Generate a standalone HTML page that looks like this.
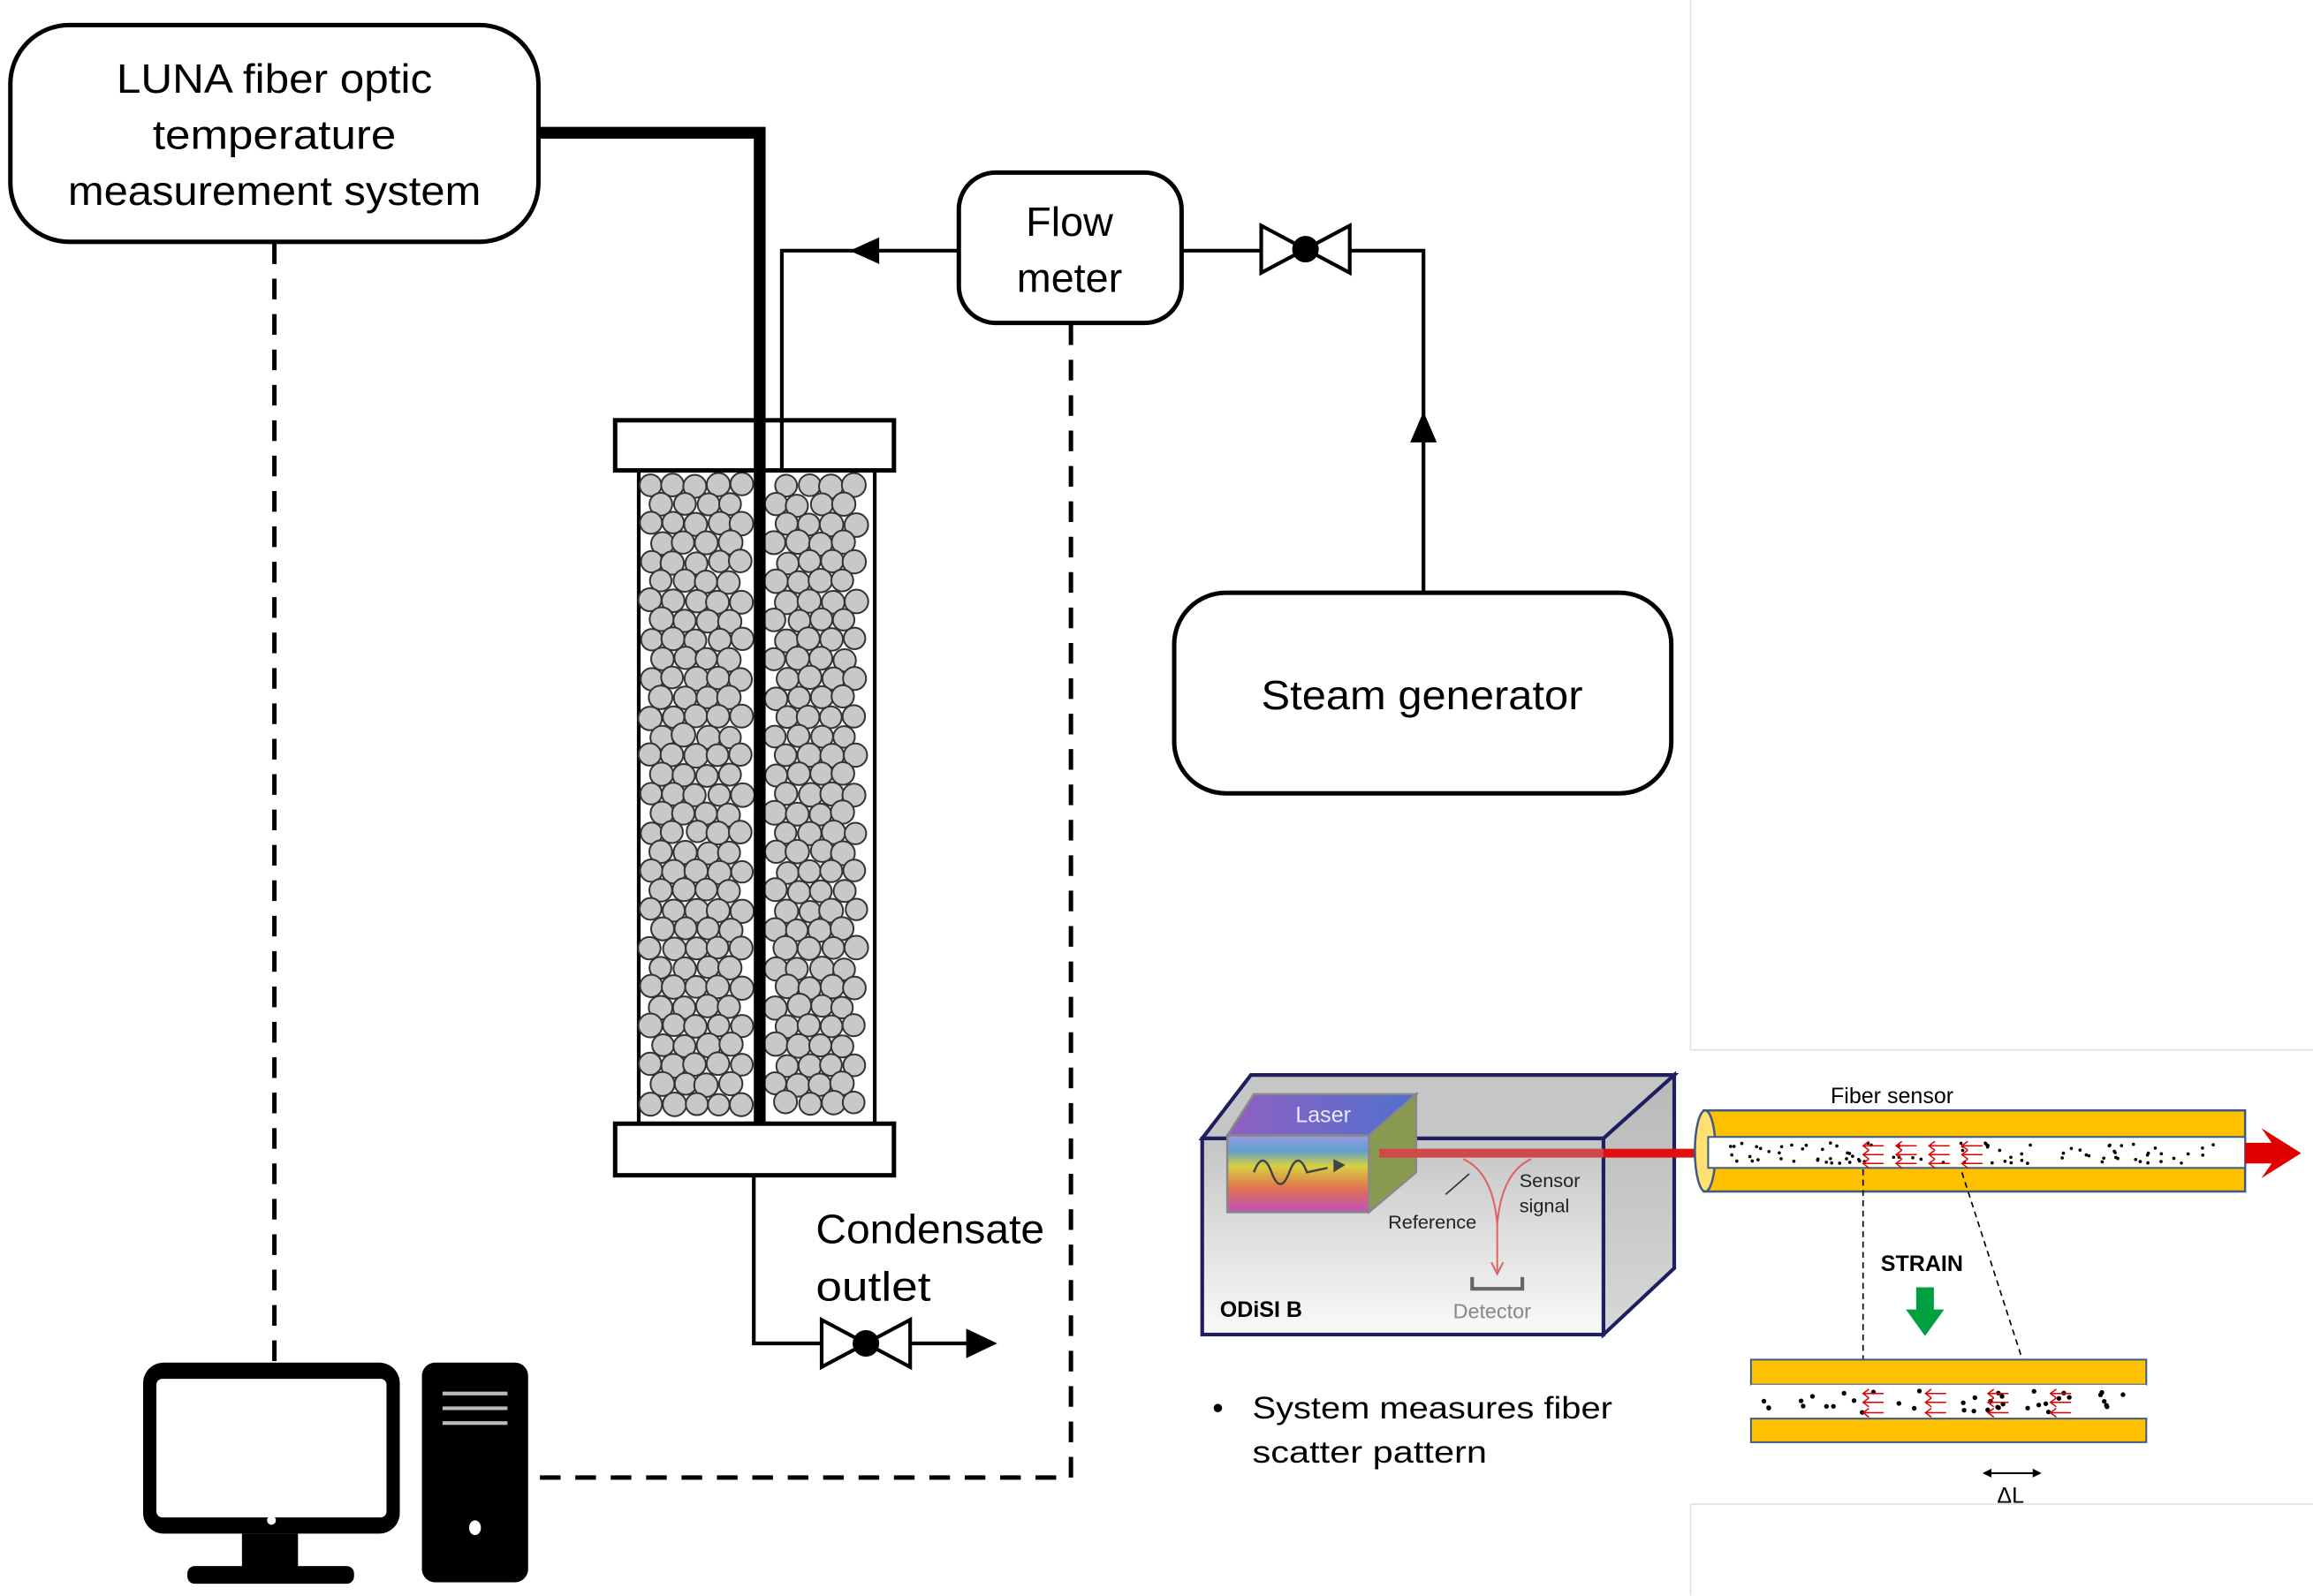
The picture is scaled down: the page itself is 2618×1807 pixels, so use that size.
<!DOCTYPE html>
<html><head><meta charset="utf-8"><style>
html,body{margin:0;padding:0;background:#fff;}
svg{display:block;}
text{font-family:"Liberation Sans",sans-serif;}
</style></head><body>
<svg id="s" width="2618" height="1807" viewBox="0 0 1568 1082.3" xmlns="http://www.w3.org/2000/svg">
<defs>
<linearGradient id="boxg" x1="0" y1="0" x2="0" y2="1"><stop offset="0" stop-color="#c4c4c4"/><stop offset="1" stop-color="#fafafa"/></linearGradient>
<linearGradient id="sideg" x1="0" y1="0" x2="0" y2="1"><stop offset="0" stop-color="#b8b8b8"/><stop offset="1" stop-color="#d8d8d8"/></linearGradient>
<linearGradient id="rain" x1="0" y1="0" x2="0" y2="1"><stop offset="0" stop-color="#9a9ae0"/><stop offset="0.2" stop-color="#5f9fd0"/><stop offset="0.4" stop-color="#d8d040"/><stop offset="0.7" stop-color="#e07050"/><stop offset="1" stop-color="#c050c0"/></linearGradient>
<linearGradient id="rtop" x1="0" y1="0" x2="1" y2="0"><stop offset="0" stop-color="#9060c0"/><stop offset="1" stop-color="#5070d0"/></linearGradient>
</defs>

<!-- gray frame lines right -->
<g stroke="#e2e2e2" stroke-width="1" fill="none">
<line x1="1146" y1="0" x2="1146" y2="712"/><line x1="1146" y1="712" x2="1568" y2="712"/>
<line x1="1146" y1="1020" x2="1568" y2="1020"/><line x1="1146" y1="1020" x2="1146" y2="1082"/>
</g>

<!-- LUNA box -->
<rect x="7" y="17" width="358" height="147" rx="40" fill="#fff" stroke="#000" stroke-width="3"/>
<g font-size="28" text-anchor="middle" fill="#000">
<text x="186" y="63" textLength="214" lengthAdjust="spacingAndGlyphs">LUNA fiber optic</text>
<text x="186" y="101" textLength="165" lengthAdjust="spacingAndGlyphs">temperature</text>
<text x="186" y="139" textLength="280" lengthAdjust="spacingAndGlyphs">measurement system</text>
</g>
<!-- thick fiber -->
<polyline points="365,90 515,90 515,762" fill="none" stroke="#000" stroke-width="8"/>
<!-- dashed from LUNA -->
<line x1="186" y1="165" x2="186" y2="924" stroke="#000" stroke-width="3" stroke-dasharray="14,10"/>

<!-- Flow meter -->
<rect x="650" y="117" width="151" height="102" rx="25" fill="#fff" stroke="#000" stroke-width="3"/>
<g font-size="28" text-anchor="middle"><text x="725" y="160">Flow</text><text x="725" y="198">meter</text></g>
<polyline points="650,170 530,170 530,285" fill="none" stroke="#000" stroke-width="2.5"/>
<polygon points="576,170 596,161 596,179" fill="#000"/>
<!-- right pipe & valve -->
<polyline points="801,170 855,170" fill="none" stroke="#000" stroke-width="2.5"/>
<polygon points="855,153 915,185 915,153 855,185" fill="#fff" stroke="#000" stroke-width="2.5"/>
<circle cx="885" cy="169" r="9" fill="#000"/>
<polyline points="915,170 965,170 965,402" fill="none" stroke="#000" stroke-width="2.5"/>
<polygon points="965,279 956,300 974,300" fill="#000"/>

<!-- Steam generator -->
<rect x="796" y="402" width="337" height="136" rx="35" fill="#fff" stroke="#000" stroke-width="3"/>
<text x="964" y="481" font-size="28" text-anchor="middle" textLength="218" lengthAdjust="spacingAndGlyphs">Steam generator</text>

<!-- column -->
<rect x="433" y="319" width="160" height="443" fill="#fff" stroke="#000" stroke-width="2.5"/>
<g id="beads" stroke="#333" stroke-width="1.2" fill="#c8c8c8"></g>
<line x1="515" y1="285" x2="515" y2="762" stroke="#000" stroke-width="8"/>
<rect x="417" y="285" width="189" height="34" fill="#fff" stroke="#000" stroke-width="3"/>
<line x1="515" y1="285" x2="515" y2="319" stroke="#000" stroke-width="8"/>
<line x1="530" y1="285" x2="530" y2="319" stroke="#000" stroke-width="2.5"/>
<rect x="417" y="762" width="189" height="35" fill="#fff" stroke="#000" stroke-width="3"/>

<!-- condensate -->
<polyline points="511,797 511,911 557,911" fill="none" stroke="#000" stroke-width="2.5"/>
<polygon points="557,895 617,927 617,895 557,927" fill="#fff" stroke="#000" stroke-width="2.5"/>
<circle cx="587" cy="911" r="9" fill="#000"/>
<line x1="617" y1="911" x2="658" y2="911" stroke="#000" stroke-width="2.5"/>
<polygon points="676,911 655,901 655,921" fill="#000"/>
<g font-size="28"><text x="553" y="843" textLength="155" lengthAdjust="spacingAndGlyphs">Condensate</text><text x="553" y="882" textLength="78" lengthAdjust="spacingAndGlyphs">outlet</text></g>

<!-- dashed flow meter to computer -->
<polyline points="726,220 726,1002 360,1002" fill="none" stroke="#000" stroke-width="3" stroke-dasharray="14,10"/>

<!-- computer -->
<rect x="97" y="924" width="174" height="116" rx="14" fill="#000"/>
<rect x="106" y="935" width="156" height="94" rx="4" fill="#fff"/>
<circle cx="184" cy="1031" r="3" fill="#fff"/>
<rect x="164" y="1040" width="38" height="24" fill="#000"/>
<rect x="127" y="1062" width="113" height="12" rx="5" fill="#000"/>
<rect x="286" y="924" width="72" height="149" rx="9" fill="#000"/>
<g stroke="#bbb" stroke-width="2.5"><line x1="300" y1="945" x2="344" y2="945"/><line x1="300" y1="955" x2="344" y2="955"/><line x1="300" y1="965" x2="344" y2="965"/></g>
<ellipse cx="322" cy="1036" rx="4" ry="5" fill="#fff"/>

<!-- ODiSI box -->
<polygon points="815,772 848,729 1135,729 1087,772" fill="#c6c6c6" stroke="#1f1f60" stroke-width="2.5"/>
<polygon points="1087,772 1135,729 1135,860 1087,905" fill="url(#sideg)" stroke="#1f1f60" stroke-width="2.5"/>
<rect x="815" y="772" width="272" height="133" fill="url(#boxg)" stroke="#1f1f60" stroke-width="2.5"/>
<!-- laser cube -->
<polygon points="832,770 850,742 960,742 928,770" fill="url(#rtop)" stroke="#888" stroke-width="1.5"/>
<polygon points="928,770 960,742 960,795 928,822" fill="#8a9a50" stroke="#888" stroke-width="1.5"/>
<rect x="832" y="770" width="96" height="52" fill="url(#rain)" stroke="#888" stroke-width="1.5"/>
<text x="897" y="761" font-size="15" fill="#e8e8ff" text-anchor="middle">Laser</text>
<path d="M850,795 q6,-16 12,0 t12,0 t12,0 l14,-3" fill="none" stroke="#444" stroke-width="1.5"/>
<polygon points="912,790 904,786 904,795" fill="#444"/>
<line x1="935" y1="782" x2="1087" y2="782" stroke="#d04848" stroke-width="6"/>
<line x1="1087" y1="782" x2="1160" y2="782" stroke="#e01010" stroke-width="6"/>
<path d="M992,786 Q1012,795 1015,830 L1015,862 M1038,786 Q1018,795 1015,830" fill="none" stroke="#e06060" stroke-width="1.2"/>
<polyline points="1011,856 1015,864 1019,856" fill="none" stroke="#e06060" stroke-width="1.2"/>
<line x1="980" y1="810" x2="996" y2="796" stroke="#333" stroke-width="1"/>
<polyline points="998,866 998,874 1032,874 1032,866" fill="none" stroke="#666" stroke-width="2.5"/>
<g font-size="13" fill="#222"><text x="941" y="833">Reference</text><text x="1030" y="805">Sensor</text><text x="1030" y="822">signal</text></g>
<text x="985" y="894" font-size="14" fill="#888">Detector</text>
<text x="827" y="893" font-size="15" font-weight="bold">ODiSI B</text>

<!-- fiber sensor -->
<text x="1241" y="748" font-size="15">Fiber sensor</text>
<rect x="1155" y="753" width="367" height="55" fill="#ffc000" stroke="#3a5a8a" stroke-width="1.5"/>
<ellipse cx="1156" cy="780.5" rx="7" ry="27.5" fill="#ffe070" stroke="#3a5a8a" stroke-width="1.5"/>
<rect x="1158" y="771" width="364" height="21" fill="#fff" stroke="#3a5a8a" stroke-width="1.2"/>
<polygon points="1522,775 1540,775 1533,765 1560,782 1533,799 1540,789 1522,789" fill="#e00000"/>
<g id="dots1" fill="#000"></g>
<g stroke="#e00000" stroke-width="0.9" fill="none" id="arr1"></g>
<line x1="1263" y1="793" x2="1263" y2="948" stroke="#000" stroke-width="1" stroke-dasharray="4,3"/>
<line x1="1330" y1="795" x2="1380" y2="950" stroke="#000" stroke-width="1" stroke-dasharray="4,3"/>
<text x="1275" y="862" font-size="15" font-weight="bold">STRAIN</text>
<polygon points="1299,873 1311,873 1311,888 1318,888 1305,906 1292,888 1299,888" fill="#00a040"/>
<rect x="1187" y="922" width="268" height="17" fill="#ffc000" stroke="#3a5a8a" stroke-width="1.2"/>
<rect x="1187" y="939" width="268" height="23" fill="#fff"/>
<rect x="1187" y="962" width="268" height="16" fill="#ffc000" stroke="#3a5a8a" stroke-width="1.2"/>
<g id="dots2" fill="#000"></g>
<g stroke="#e00000" stroke-width="0.9" fill="none" id="arr2"></g>
<line x1="1347" y1="999" x2="1381" y2="999" stroke="#000" stroke-width="1.3"/>
<polygon points="1344,999 1350,996 1350,1002" fill="#000"/><polygon points="1384,999 1378,996 1378,1002" fill="#000"/>
<text x="1363" y="1019" font-size="15" text-anchor="middle">ΔL</text>
<text x="822" y="962" font-size="21">•</text>
<g font-size="21"><text x="849" y="962" textLength="244" lengthAdjust="spacingAndGlyphs">System measures fiber</text><text x="849" y="992" textLength="159" lengthAdjust="spacingAndGlyphs">scatter pattern</text></g>
</svg>
<script>
(function(){
var NS="http://www.w3.org/2000/svg";
var seed=7;function r(){seed=(seed*9301+49297)%233280;return seed/233280;}
function c(g,x,y,rad,attrs){var e=document.createElementNS(NS,"circle");e.setAttribute("cx",x);e.setAttribute("cy",y);e.setAttribute("r",rad);g.appendChild(e);return e;}
var b=document.getElementById("beads");
var R=7.6;
for(var row=0;row<34;row++){
  var y=329+row*13.1; if(y>754)break;
  var off=(row%2)?R:0;
  for(var x=441+off;x<=586;x+=15.4){
    if(x>505&&x<524)continue;
    c(b,(x+(r()-0.5)*2).toFixed(1),(y+(r()-0.5)*2).toFixed(1),(R-0.3+r()*0.8).toFixed(1));
  }
}
var d1=document.getElementById("dots1");
for(var i=0;i<90;i++){c(d1,(1170+r()*345).toFixed(1),(775+r()*14).toFixed(1),1.1);}
var d2=document.getElementById("dots2");
for(var i=0;i<40;i++){c(d2,(1195+r()*250).toFixed(1),(943+r()*15).toFixed(1),1.6);}
function arrows(id,x0,x1,ys){var g=document.getElementById(id);
  for(var k=0;k<ys.length;k++){for(var x=x0;x<x1;x+=(x1-x0)/3){var p=document.createElementNS(NS,"path");var y=ys[k];
  p.setAttribute("d","M"+(x+14)+","+y+" L"+x+","+y+" M"+(x+4)+","+(y-3)+" L"+x+","+y+" L"+(x+4)+","+(y+3));g.appendChild(p);}}}
arrows("arr1",1263,1330,[777,783,789]);
arrows("arr2",1263,1390,[945,951,958]);
})();
</script>
</body></html>
